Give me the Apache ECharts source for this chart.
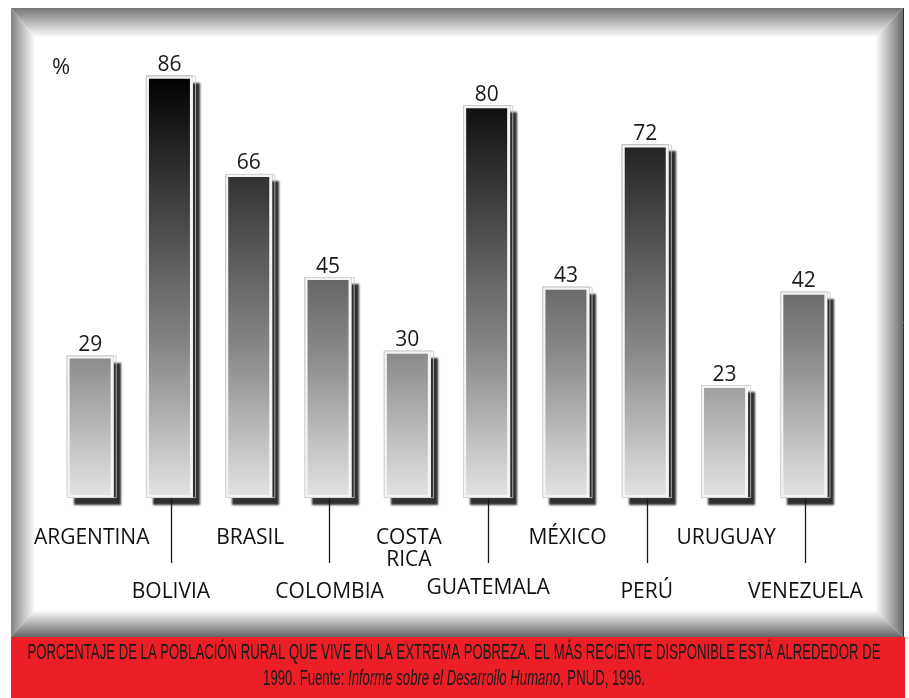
<!DOCTYPE html>
<html>
<head>
<meta charset="utf-8">
<script src="https://cdn.jsdelivr.net/npm/echarts@6/dist/echarts.min.js"></script>
<style>
html,body{margin:0;padding:0;background:#fff;}
#c{width:909px;height:698px;}
</style>
</head>
<body>
<div id="c"></div>
<script>
var categories = ['ARGENTINA','BOLIVIA','BRASIL','COLOMBIA','COSTA RICA','GUATEMALA','MÉXICO','PERÚ','URUGUAY','VENEZUELA'];
var values = [29, 86, 66, 45, 30, 80, 43, 72, 23, 42];
var unitLabel = '%';
var captionLine1 = 'PORCENTAJE DE LA POBLACIÓN RURAL QUE VIVE EN LA EXTREMA POBREZA. EL MÁS RECIENTE DISPONIBLE ESTÁ ALREDEDOR DE';
var captionLine2a = '1990. Fuente: ';
var captionLine2b = 'Informe sobre el Desarrollo Humano';
var captionLine2c = ', PNUD, 1996.';

var FONT = '"Open Sans", "DejaVu Sans", sans-serif';
var CAP_FONT_FAMILY = '"Liberation Sans", Arial, sans-serif';
var CAP_SIZE = 22;

var cv = document.createElement('canvas').getContext('2d');
cv.font = CAP_SIZE + 'px ' + CAP_FONT_FAMILY;
var w1 = cv.measureText(captionLine1).width;
var capScale = 853 / w1;

function grad(x, y, x2, y2, stops) {
  return { type: 'linear', x: x, y: y, x2: x2, y2: y2, global: true, colorStops: stops };
}

var chart = echarts.init(document.getElementById('c'), null, { renderer: 'canvas' });

var option = {
  backgroundColor: '#ffffff',
  animation: false,
  grid: { left: 52, right: 64, top: 7, bottom: 200 },
  xAxis: {
    type: 'category',
    data: categories,
    axisLine: { show: false },
    axisTick: {
      show: true,
      alignWithLabel: true,
      length: 65,
      interval: function (i) { return i % 2 === 1; },
      lineStyle: { color: '#1a1a1a', width: 1.3 }
    },
    axisLabel: {
      interval: 0,
      margin: 29,
      color: '#111',
      fontFamily: FONT,
      fontSize: 21,
      formatter: function (v, i) {
        var t = v.replace(' ', '\n');
        if (v === 'GUATEMALA') return '{g|' + t + '}';
        return (i % 2 === 1 ? '{b|' : '{a|') + t + '}';
      },
      rich: {
        a: { fontFamily: FONT, fontSize: 21, color: '#111', lineHeight: 22 },
        b: { fontFamily: FONT, fontSize: 21, color: '#111', lineHeight: 22, padding: [108, 0, 0, 0] },
        g: { fontFamily: FONT, fontSize: 21, color: '#111', lineHeight: 22, padding: [100, 0, 0, 0] }
      }
    }
  },
  yAxis: { type: 'value', min: 0, max: 100, show: false },
  series: [{
    type: 'bar',
    data: values,
    barWidth: 47,
    itemStyle: {
      color: grad(0, 76, 0, 498, [
        { offset: 0, color: '#000000' },
        { offset: 0.66, color: '#8a8a8a' },
        { offset: 1, color: '#e4e4e4' }
      ]),
      shadowColor: 'rgba(25,25,25,0.9)',
      shadowBlur: 2,
      shadowOffsetX: 7,
      shadowOffsetY: 7
    },
    label: {
      show: true,
      position: 'top',
      distance: 0,
      color: '#1a1a1a',
      fontFamily: FONT,
      fontSize: 21
    }
  }, {
    type: 'bar',
    data: values,
    barWidth: 47,
    barGap: '-100%',
    silent: true,
    itemStyle: {
      color: 'rgba(0,0,0,0)',
      borderColor: '#f4f4f4',
      borderWidth: 3
    }
  }, {
    type: 'bar',
    data: values,
    barWidth: 50,
    barGap: '-100%',
    silent: true,
    itemStyle: {
      color: 'rgba(0,0,0,0)',
      borderColor: '#c8c8c8',
      borderWidth: 0.8
    }
  }],
  graphic: [
    { type: 'polygon', z: -1, shape: { points: [[11, 8], [903, 8], [875, 38], [35, 38]] },
      style: { fill: grad(0, 8, 0, 38, [{ offset: 0, color: '#767676' }, { offset: 1, color: '#ffffff' }]) } },
    { type: 'polygon', z: -1, shape: { points: [[11, 8], [35, 38], [35, 610], [11, 637]] },
      style: { fill: grad(11, 0, 35, 0, [{ offset: 0, color: '#828282' }, { offset: 1, color: '#ffffff' }]) } },
    { type: 'polygon', z: -1, shape: { points: [[903, 8], [903, 637], [875, 610], [875, 38]] },
      style: { fill: grad(875, 0, 903, 0, [{ offset: 0, color: '#ffffff' }, { offset: 1, color: '#6c6c6c' }]) } },
    { type: 'polygon', z: -1, shape: { points: [[11, 637], [35, 610], [875, 610], [903, 637]] },
      style: { fill: grad(0, 610, 0, 637, [{ offset: 0, color: '#ffffff' }, { offset: 1, color: '#666666' }]) } },
    { type: 'line', z: 0, shape: { x1: 903.5, y1: 8, x2: 903.5, y2: 637 }, style: { stroke: '#333', lineWidth: 1 } },
    { type: 'rect', z: -1, shape: { x: 11, y: 637, width: 894, height: 61 }, style: { fill: '#ec1f26' } },
    { type: 'text', z: 5, x: 454, y: 653, scaleX: capScale, scaleY: 1,
      style: { text: captionLine1, x: 0, y: 0, fill: '#1a1a1a', fontSize: CAP_SIZE, fontFamily: CAP_FONT_FAMILY,
        align: 'center', verticalAlign: 'middle' } },
    { type: 'text', z: 5, x: 454, y: 679, scaleX: capScale, scaleY: 1,
      style: { text: captionLine2a + '{i|' + captionLine2b + '}' + captionLine2c, x: 0, y: 0, fill: '#1a1a1a',
        fontSize: CAP_SIZE, fontFamily: CAP_FONT_FAMILY, align: 'center', verticalAlign: 'middle',
        rich: { i: { fontStyle: 'italic', fontSize: CAP_SIZE, fontFamily: CAP_FONT_FAMILY, fill: '#1a1a1a' } } } },
    { type: 'text', z: 5, x: 61, y: 68,
      style: { text: unitLabel, fill: '#1a1a1a', fontSize: 22, fontFamily: FONT, align: 'center', verticalAlign: 'middle' } }
  ]
};
chart.setOption(option);
</script>
</body>
</html>
